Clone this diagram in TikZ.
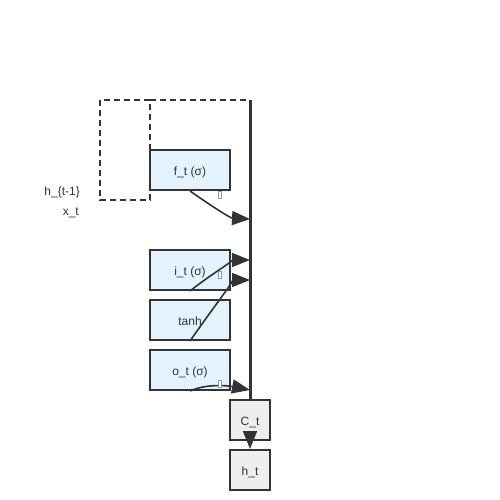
\documentclass[tikz,border=0pt]{standalone}
\usepackage{fontspec}
\setmainfont{Liberation Sans}
\usetikzlibrary{arrows.meta}
\definecolor{ink}{HTML}{333333}
\definecolor{gatefill}{HTML}{E3F2FD}
\definecolor{statefill}{HTML}{EEEEEE}
\begin{document}
\begin{tikzpicture}[x=1pt,y=-1pt,
  every node/.style={font=\fontsize{12}{14}\selectfont, text=ink, inner sep=0pt, text height=10.5pt, text depth=0pt},
  gate/.style={draw=ink, line width=2pt, fill=gatefill, minimum width=80pt, minimum height=40pt},
  statebox/.style={draw=ink, line width=2pt, fill=statefill, minimum width=40pt, minimum height=40pt},
  flow/.style={draw=ink, line width=1.6pt, -{Triangle[length=18pt,width=14pt]}},
  tofu/.style={draw=gray!80, line width=0.6pt, minimum width=3.5pt, minimum height=7pt, text height=0pt, fill=white}
]
\useasboundingbox (0,0) rectangle (500,500);
% dashed loop
\coordinate (d1) at (100,100);
\coordinate (d2) at (150,200);
\coordinate (d3) at (150,100);
\coordinate (top) at (250,100);
\draw[ink, line width=1.6pt, dash pattern=on 6pt off 4pt] (d1) rectangle (d2);
\draw[ink, line width=1.6pt, dash pattern=on 6pt off 4pt] (d3) -- (top);
% nodes
\node[gate] (ft) at (190,170) {f\_t (σ)};
\node[gate] (it) at (190,270) {i\_t (σ)};
\node[gate] (tanh) at (190,320) {tanh};
\node[gate] (ot) at (190,370) {o\_t (σ)};
\node[statebox] (ct) at (250,420) {C\_t};
\node[statebox] (ht) at (250,470) {h\_t};
\node[anchor=east] (hprev) at (80,190) {h\_\{t-1\}};
\node[anchor=east] (xt) at (79,210.5) {x\_t};
% cell state line
\draw[ink, line width=3pt] (top) -- (ct.north);
\coordinate (ef) at (250,219);
\coordinate (ei) at (250,260);
\coordinate (eg) at (250,280);
\coordinate (eo) at (250,390);
% gate connectors
\draw[flow] (ft.south) .. controls (210,205) and (230,218) .. (ef);
\draw[flow] (it.south) .. controls (210,275) and (235,260) .. (ei);
\draw[flow] (tanh.south) .. controls (215,305) and (235,280) .. (eg);
\draw[flow] (ot.south) .. controls (210,382) and (235,387) .. (eo);
\draw[flow] (ct.south) -- (ht.north);
% missing-glyph marks
\node[tofu] (m1) at (220,195) {};
\node[tofu] (m2) at (220,275) {};
\node[tofu] (m3) at (220,384) {};
\end{tikzpicture}
\end{document}
